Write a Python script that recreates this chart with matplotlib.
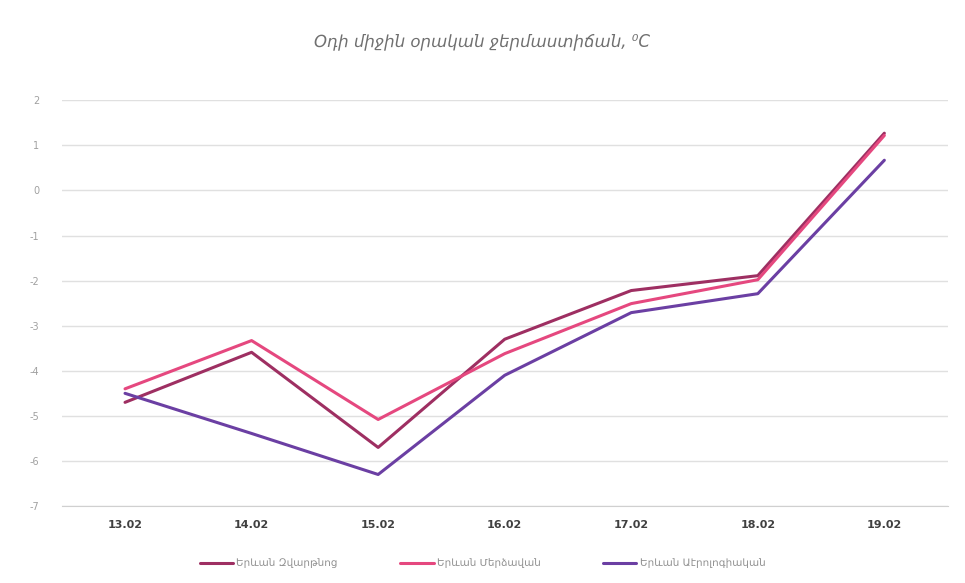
import matplotlib
matplotlib.use("Agg")
import matplotlib.pyplot as plt

dates = ["13.02", "14.02", "15.02", "16.02", "17.02", "18.02", "19.02"]
zvartnots = [-4.70, -3.59, -5.70, -3.30, -2.22, -1.89, 1.27]
merdzavan = [-4.40, -3.33, -5.08, -3.62, -2.51, -1.98, 1.22]
aerolog = [-4.50, -5.39, -6.30, -4.10, -2.71, -2.29, 0.67]
series_names = ["Երևան Զվարթնոց", "Երևան Մերձավան", "Երևան Աէրոլոգիական"]
yticks = [2, 1, 0, -1, -2, -3, -4, -5, -6, -7]
title = "Օդի միջին օրական ջերմաստիճան, ⁰C"

plt.rcParams['font.family'] = ['DejaVu Sans']
fig = plt.figure(figsize=(9.65, 5.83), dpi=100)
ax = fig.add_axes([0.064, 0.132, 0.918, 0.696])

x = list(range(len(dates)))
colors = ["#9E2F62", "#E5487F", "#6B3FA3"]
for vals, name, c in zip([zvartnots, merdzavan, aerolog], series_names, colors):
    ax.plot(x, vals, color=c, lw=2.2, label=name, solid_capstyle='round')

ax.set_xlim(-0.5, len(dates) - 0.5)
ax.set_ylim(-7, 2)
ax.set_yticks(yticks)
ax.set_yticklabels([str(t) for t in yticks], color="#A0A0A0", fontsize=7)
ax.set_xticks(x)
ax.set_xticklabels(dates, fontsize=8, fontweight='bold', color="#404040")
ax.grid(axis='y', color="#E0E0E0", lw=1)
ax.set_axisbelow(True)
for s in ['top', 'right', 'left']:
    ax.spines[s].set_visible(False)
ax.spines['bottom'].set_color("#D0D0D0")
ax.tick_params(axis='both', length=0)
ax.tick_params(axis='x', pad=10)
ax.tick_params(axis='y', pad=16)

fig.text(0.5, 0.93, title, ha='center', va='center', fontsize=12, style='italic', color="#707070")

leg = fig.legend(loc='center', bbox_to_anchor=(0.5, 0.034), ncol=3, frameon=False,
                 fontsize=7.5, handlelength=3.2, handletextpad=0.3, columnspacing=6)
for t in leg.get_texts():
    t.set_color("#909090")

fig.savefig("out.png", dpi=100, facecolor='white')
